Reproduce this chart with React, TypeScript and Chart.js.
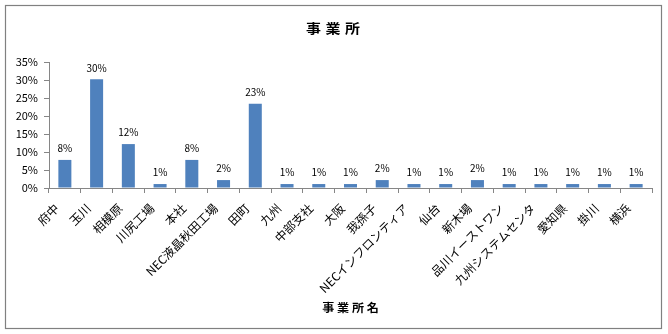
import React, { useEffect, useRef } from "react";
import { Chart, registerables } from "chart.js";

Chart.register(...registerables);

const chartTitle = "事業所";
const axisTitle = "事業所名";
const categories = [
  "府中",
  "玉川",
  "相模原",
  "川尻工場",
  "本社",
  "NEC液晶秋田工場",
  "田町",
  "九州",
  "中部支社",
  "大阪",
  "我孫子",
  "NECインフロンティア",
  "仙台",
  "新木場",
  "品川イーストワン",
  "九州システムセンタ",
  "愛知県",
  "掛川",
  "横浜",
];
const shares = [7.8, 30.2, 12.2, 1.1, 7.8, 2.2, 23.4, 1.1, 1.1, 1.1, 2.2, 1.1, 1.1, 2.2, 1.1, 1.1, 1.1, 1.1, 1.1];
const yMin = 0;
const yMax = 35;
const yStep = 5;

const FONT = "'Noto Sans CJK JP', 'Noto Sans', sans-serif";
const AXIS_GRAY = "#868686";
const BAR_BLUE = "#4F81BD";

export default function App() {
  const ref = useRef<HTMLCanvasElement>(null);

  useEffect(() => {
    document.body.style.margin = "0";
    const canvas = ref.current!;
    const ctx = canvas.getContext("2d")!;

    const decor = {
      id: "decor",
      beforeDraw(chart: any) {
        const c = chart.ctx;
        c.save();
        c.fillStyle = "#ffffff";
        c.fillRect(0, 0, chart.width, chart.height);
        c.strokeStyle = "#808080";
        c.lineWidth = 1.2;
        c.strokeRect(5.5, 5.5, 656, 323);
        c.restore();
      },
      afterDatasetsDraw(chart: any) {
        const c = chart.ctx;
        const meta = chart.getDatasetMeta(0);
        c.save();
        c.fillStyle = "#000";
        c.font = `10px ${FONT}`;
        c.textAlign = "center";
        c.textBaseline = "middle";
        meta.data.forEach((bar: any, i: number) => {
          c.fillText(Math.round(shares[i]) + "%", bar.x, bar.y - 11.5);
        });
        c.restore();
      },
      afterDraw(chart: any) {
        const c = chart.ctx;
        const area = chart.chartArea;
        c.save();
        c.fillStyle = "#000";
        c.textBaseline = "middle";
        c.textAlign = "left";
        // chart title
        c.font = `bold 13px ${FONT}`;
        (c as any).letterSpacing = "4px";
        const tw = c.measureText(chartTitle).width - 4;
        c.translate(333, 28);
        c.scale(1.15, 1);
        c.fillText(chartTitle, -tw / 2, 0);
        c.setTransform(1, 0, 0, 1, 0, 0);
        // axis title
        c.font = `bold 11px ${FONT}`;
        (c as any).letterSpacing = "2.5px";
        const aw = c.measureText(axisTitle).width - 2.5;
        c.translate((area.left + area.right) / 2, 307.5);
        c.scale(1.1, 1);
        c.fillText(axisTitle, -aw / 2, 0);
        c.restore();
      },
    };

    const chart = new Chart(ctx, {
      type: "bar",
      data: {
        labels: categories,
        datasets: [
          {
            data: shares,
            backgroundColor: BAR_BLUE,
            borderWidth: 0,
            barPercentage: 0.41,
            categoryPercentage: 1,
          },
        ],
      },
      options: {
        responsive: false,
        devicePixelRatio: 1,
        animation: false,
        layout: { padding: { top: 62, right: 16, bottom: 0, left: 0 } },
        plugins: {
          legend: { display: false },
          title: { display: false },
          tooltip: { enabled: false },
        },
        scales: {
          x: {
            offset: true,
            grid: {
              display: true,
              offset: true,
              drawOnChartArea: false,
              drawTicks: true,
              tickLength: 5,
              color: AXIS_GRAY,
            },
            border: { display: true, color: AXIS_GRAY, width: 1 },
            ticks: {
              autoSkip: false,
              minRotation: 45,
              maxRotation: 45,
              color: "#000",
              padding: 8,
              labelOffset: -8,
              font: { family: FONT, size: 12 },
            },
            afterFit: (s: any) => {
              s.height = 146;
            },
          },
          y: {
            min: yMin,
            max: yMax,
            grid: {
              display: true,
              drawOnChartArea: false,
              drawTicks: true,
              tickLength: 5,
              color: AXIS_GRAY,
            },
            border: { display: true, color: AXIS_GRAY, width: 1 },
            ticks: {
              stepSize: yStep,
              color: "#000",
              padding: 6,
              font: { family: FONT, size: 11 },
              callback: (v: any) => v + "%",
            },
            afterFit: (s: any) => {
              s.width = 49;
            },
          },
        },
      },
      plugins: [decor],
    });

    return () => chart.destroy();
  }, []);

  return (
    <div style={{ position: "fixed", left: 0, top: 0, width: 668, height: 334 }}>
      <canvas ref={ref} width={668} height={334} style={{ display: "block", width: 668, height: 334 }} />
    </div>
  );
}
